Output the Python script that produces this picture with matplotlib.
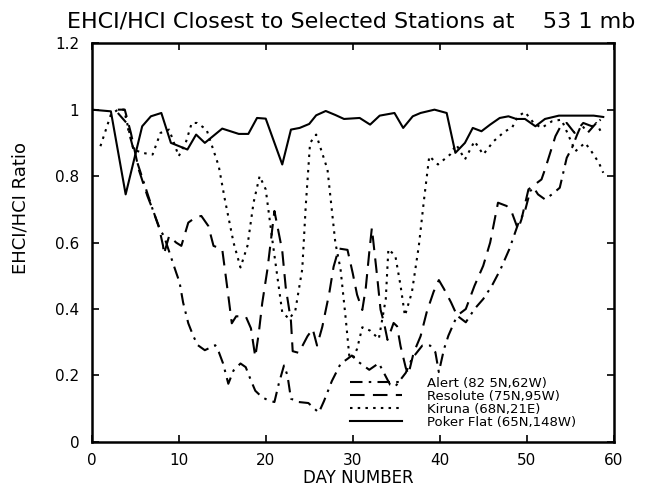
import matplotlib
matplotlib.use("Agg")
import matplotlib.pyplot as plt

title = "EHCI/HCI Closest to Selected Stations at    53 1 mb"
xlabel = "DAY NUMBER"
ylabel = "EHCI/HCI Ratio"
xticks = [0, 10, 20, 30, 40, 50, 60]
yticks = [0, 0.2, 0.4, 0.6, 0.8, 1.0, 1.2]
ytick_labels = ["0", "0.2", "0.4", "0.6", "0.8", "1", "1.2"]

labels = ["Alert (82 5N,62W)", "Resolute (75N,95W)", "Kiruna (68N,21E)", "Poker Flat (65N,148W)"]

alert_day = [3, 4, 5, 6, 7, 7.8, 8.3, 9.7, 10.1, 10.5, 11.1, 11.7, 12.2, 13, 13.8, 14.2, 14.6,
             15.1, 15.7, 16.3, 17.1, 17.7, 18.3, 18.8, 19.6, 20.4, 21, 21.5, 22.1, 22.5, 22.9,
             23.8, 24.9, 26.1, 26.7, 27.6, 28.6, 29.4, 29.9, 30.7, 31.9, 33, 33.6, 34.3, 34.9,
             36.1, 36.8, 38, 38.9, 39.5, 39.9, 40.5, 41, 42, 43, 44, 45, 46, 47, 48, 49, 49.8,
             50.4, 50.8, 51.3, 52.1, 52.9, 53.8, 54.6, 55.2, 55.8, 56.3, 57, 58, 58.7]
alert_val = [0.99, 0.96, 0.86, 0.78, 0.70, 0.64, 0.62, 0.51, 0.48, 0.42, 0.357, 0.317, 0.291,
             0.276, 0.286, 0.291, 0.271, 0.236, 0.175, 0.215, 0.236, 0.225, 0.185, 0.154, 0.134,
             0.124, 0.12, 0.175, 0.23, 0.2, 0.13, 0.12, 0.117, 0.088, 0.123, 0.183, 0.235, 0.25,
             0.26, 0.24, 0.217, 0.237, 0.207, 0.172, 0.167, 0.208, 0.25, 0.29, 0.29, 0.27, 0.21,
             0.28, 0.32, 0.38, 0.36, 0.40, 0.43, 0.47, 0.52, 0.58, 0.655, 0.695, 0.755, 0.765,
             0.745, 0.73, 0.745, 0.765, 0.855, 0.885, 0.925, 0.955, 0.93, 0.96, 0.925]

resolute_day = [3, 3.8, 4.5, 5.4, 6.4, 7, 7.7, 8.2, 8.3, 8.9, 9.7, 10.3, 11.1, 12, 12.6, 13.4,
                14, 15, 15.3, 15.7, 16.1, 16.6, 17.7, 18.3, 18.8, 19.2, 19.6, 20.2, 21, 21.9,
                22.3, 22.9, 23.1, 23.8, 24.8, 25.4, 25.9, 26.5, 27.3, 27.8, 28.4, 29.4, 30, 30.5,
                31.1, 31.5, 31.9, 32.2, 32.8, 33.2, 33.6, 34, 34.7, 35.1, 35.5, 36.1, 36.4, 37,
                37.8, 38.5, 39.3, 39.9, 40.5, 41.3, 42, 43, 44, 45, 45.8, 46.7, 47.7, 48.3, 49,
                49.4, 50.2, 51.7, 52.1, 53.3, 54, 54.6, 55.5, 56.5, 57.5, 58.5]
resolute_val = [1.0, 1.0, 0.93, 0.82, 0.74, 0.70, 0.65, 0.59, 0.565, 0.62, 0.60, 0.59, 0.66,
                0.677, 0.68, 0.65, 0.59, 0.58, 0.52, 0.44, 0.357, 0.378, 0.378, 0.342, 0.256,
                0.327, 0.418, 0.52, 0.695, 0.575, 0.465, 0.364, 0.273, 0.268, 0.318, 0.34, 0.29,
                0.346, 0.447, 0.527, 0.582, 0.578, 0.508, 0.443, 0.397, 0.463, 0.57, 0.644,
                0.5, 0.398, 0.358, 0.307, 0.358, 0.348, 0.288, 0.223, 0.203, 0.268, 0.318, 0.39,
                0.452, 0.487, 0.46, 0.42, 0.38, 0.40, 0.47, 0.53, 0.60, 0.72, 0.71, 0.69, 0.64,
                0.67, 0.76, 0.79, 0.82, 0.92, 0.955, 0.96, 0.93, 0.96, 0.95, 0.97]

kiruna_day = [1, 2.2, 3, 3.7, 4.8, 5.8, 7, 7.9, 8.9, 10, 10.8, 11.5, 12.1, 13.2, 14.6, 15.3,
              16.3, 17.1, 17.9, 18.6, 19.3, 20, 20.8, 21.9, 22.7, 23.4, 24.2, 24.6, 25.1, 25.8,
              27.1, 28, 28.6, 29.2, 29.6, 30, 30.5, 31.1, 32, 33, 33.8, 34.1, 34.9, 35.5, 36,
              36.8, 37.6, 38.2, 38.8, 39.8, 41.2, 41.9, 42.9, 44, 45, 46.2, 47.5, 48.3, 49,
              49.8, 50.8, 51.7, 52.9, 54, 55.6, 56.7, 57.3, 58.3, 58.8]
kiruna_val = [0.89, 0.985, 1.0, 1.0, 0.88, 0.87, 0.865, 0.93, 0.94, 0.86, 0.90, 0.96, 0.96,
              0.94, 0.83, 0.73, 0.60, 0.525, 0.59, 0.72, 0.80, 0.76, 0.60, 0.39, 0.37, 0.395,
              0.52, 0.71, 0.90, 0.925, 0.82, 0.60, 0.52, 0.37, 0.26, 0.25, 0.28, 0.345, 0.335,
              0.31, 0.43, 0.58, 0.56, 0.47, 0.38, 0.45, 0.59, 0.73, 0.86, 0.835, 0.865, 0.895,
              0.85, 0.905, 0.865, 0.905, 0.935, 0.945, 0.98, 0.993, 0.96, 0.945, 0.965, 0.97,
              0.875, 0.90, 0.88, 0.84, 0.81]

poker_day = [0, 2.2, 3.9, 5.8, 6.8, 8, 9.1, 11, 12, 13, 15, 16.9, 18, 19, 20, 21.9, 22.9, 23.9,
             25, 25.8, 26.9, 28, 29, 30.8, 32, 33.1, 34.8, 35.8, 36.9, 37.8, 39.4, 40.8, 41.8,
             42.9, 43.8, 44.8, 45.8, 46.9, 47.9, 48.8, 49.8, 51, 52.1, 53.7, 56, 57.7, 58.8]
poker_val = [1.0, 0.995, 0.745, 0.95, 0.98, 0.99, 0.90, 0.88, 0.925, 0.90, 0.943, 0.927, 0.927,
             0.975, 0.973, 0.835, 0.94, 0.945, 0.957, 0.983, 0.996, 0.984, 0.972, 0.975, 0.955,
             0.982, 0.99, 0.945, 0.98, 0.99, 1.0, 0.99, 0.87, 0.90, 0.945, 0.935, 0.955, 0.975,
             0.98, 0.972, 0.972, 0.95, 0.972, 0.982, 0.982, 0.982, 0.978]

plt.rcParams["font.family"] = ["DejaVu Sans"]

fig = plt.figure(figsize=(6.46, 4.91), dpi=100)
ax = fig.add_axes([0.142, 0.100, 0.808, 0.812])

lw = 1.5
ax.plot(alert_day, alert_val, color="black", lw=lw, linestyle=(0, (6, 3, 1.2, 3)), label=labels[0])
ax.plot(resolute_day, resolute_val, color="black", lw=lw, linestyle=(0, (7, 4)), label=labels[1])
ax.plot(kiruna_day, kiruna_val, color="black", lw=lw, linestyle=(0, (1.2, 2.5)), label=labels[2])
ax.plot(poker_day, poker_val, color="black", lw=lw, linestyle="-", label=labels[3])

ax.set_xlim(0, 60)
ax.set_ylim(0, 1.2)
ax.set_xticks(xticks)
ax.set_yticks(yticks)
ax.set_yticklabels(ytick_labels)
ax.tick_params(direction="in", top=True, right=True, length=5, width=1.2, labelsize=11)
ax.tick_params(axis="y", pad=9)
ax.tick_params(axis="x", pad=8)
for s in ax.spines.values():
    s.set_linewidth(1.8)

fig.text(0.544, 0.957, title, ha="center", va="center", fontsize=16)
fig.text(0.031, 0.576, ylabel, ha="center", va="center", rotation=90, fontsize=13)
fig.text(0.555, 0.027, xlabel, ha="center", va="center", fontsize=12)

leg = ax.legend(loc="upper left", bbox_to_anchor=(0.494, 0.163), frameon=False, fontsize=9.5,
                handlelength=4.0, handletextpad=1.9, labelspacing=0.0, borderaxespad=0,
                borderpad=0)

fig.savefig("out.png", dpi=100)
